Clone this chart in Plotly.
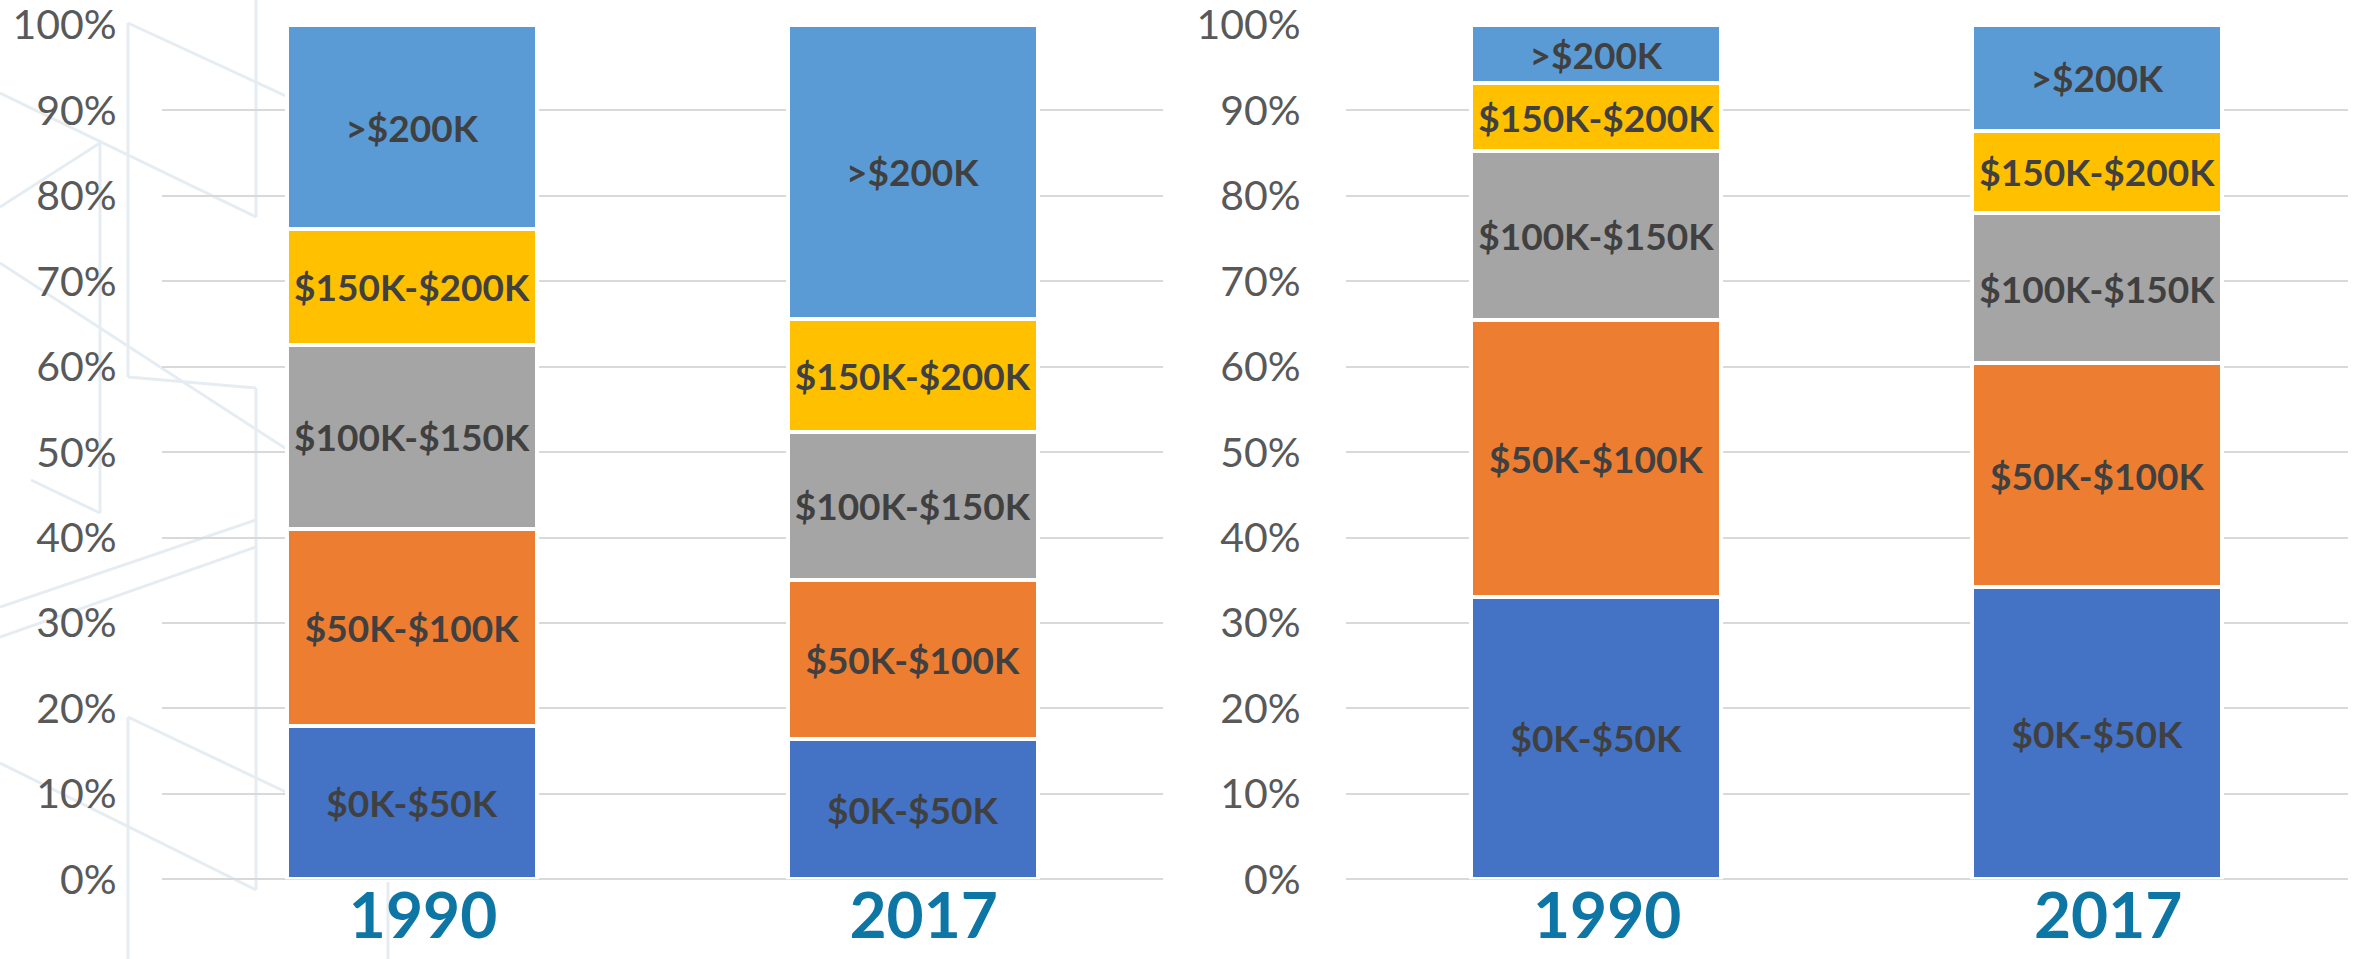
import plotly.graph_objects as go

# ---------------- data ----------------
years = ["1990", "2017"]
brackets = ["$0K-$50K", "$50K-$100K", "$100K-$150K", "$150K-$200K", ">$200K"]

# left chart (share, %)
left_values = {
    "$0K-$50K":    [17.9, 16.4],
    "$50K-$100K":  [23.1, 18.6],
    "$100K-$150K": [21.6, 17.4],
    "$150K-$200K": [13.5, 13.2],
    ">$200K":      [23.9, 34.4],
}
# right chart (share, %)
right_values = {
    "$0K-$50K":    [33.1, 34.2],
    "$50K-$100K":  [32.4, 26.2],
    "$100K-$150K": [19.7, 17.6],
    "$150K-$200K": [8.0, 9.65],
    ">$200K":      [6.8, 12.35],
}
tick_vals = [0, 10, 20, 30, 40, 50, 60, 70, 80, 90, 100]
tick_text = [f"{v}%" for v in tick_vals]

colors = {
    "$0K-$50K": "#4472C4",
    "$50K-$100K": "#ED7D31",
    "$100K-$150K": "#A5A5A5",
    "$150K-$200K": "#FFC000",
    ">$200K": "#5B9BD5",
}

W, H = 2356, 959

fig = go.Figure()
for name in brackets:
    for vals, xa, ya in ((left_values, "x", "y"), (right_values, "x2", "y2")):
        fig.add_trace(go.Bar(
            x=years, y=vals[name], name=name, xaxis=xa, yaxis=ya,
            width=0.5,
            marker=dict(color=colors[name], line=dict(color="white", width=4)),
            text=[name] * len(years),
            textposition="inside", insidetextanchor="middle",
            textangle=0, constraintext="none",
            textfont=dict(family="Lato", size=37, color="#404040", weight="bold"),
            showlegend=False, hoverinfo="skip",
        ))

ydom = [(H - 879.3) / H, (H - 25) / H]
yaxis_common = dict(
    range=[0, 100], tickvals=tick_vals, ticktext=tick_text,
    showgrid=True, gridcolor="#D9D9D9", gridwidth=2,
    zeroline=True, zerolinecolor="#D9D9D9", zerolinewidth=2,
    showline=False, ticks="",
    tickfont=dict(family="Lato", size=41, color="#595959"),
    ticklabelstandoff=44, ticklabeloverflow="allow",
    domain=ydom, fixedrange=True, automargin=False,
)
xaxis_common = dict(
    type="category", range=[-0.5, 1.5], showgrid=False, zeroline=False,
    showline=False, ticks="",
    tickfont=dict(family="Lato", size=64, color="#0E76A4", weight="bold"),
    ticklabelshift=11, ticklabelstandoff=-6, ticklabeloverflow="allow",
    fixedrange=True, automargin=False,
)

fig.update_layout(
    width=W, height=H, margin=dict(l=0, r=0, t=0, b=0, autoexpand=False),
    paper_bgcolor="white", plot_bgcolor="rgba(0,0,0,0)",
    barmode="stack", bargap=0.5,
    xaxis=dict(domain=[161.7 / W, 1163 / W], anchor="y", **xaxis_common),
    yaxis=dict(anchor="x", **yaxis_common),
    xaxis2=dict(domain=[1345.7 / W, 2347.7 / W], anchor="y2", **xaxis_common),
    yaxis2=dict(anchor="x2", **yaxis_common),
)

# faint decorative background lines (pixel coordinates of the page)
decor = [
    ((256, 0), (256, 217)),
    ((128, 23), (288, 97)),
    ((128, 23), (128, 377)),
    ((0, 93), (256, 217)),
    ((100, 140), (100, 513)),
    ((0, 207), (100, 143)),
    ((0, 263), (288, 450)),
    ((128, 377), (256, 388)),
    ((256, 388), (256, 890)),
    ((256, 520), (0, 607)),
    ((256, 547), (0, 637)),
    ((128, 717), (128, 959)),
    ((128, 717), (288, 793)),
    ((0, 763), (256, 890)),
    ((388, 882), (388, 959)),
    ((31, 480), (100, 513)),
]
for (x0, y0), (x1, y1) in decor:
    fig.add_shape(type="line", xref="paper", yref="paper",
                  x0=x0 / W, y0=1 - y0 / H, x1=x1 / W, y1=1 - y1 / H,
                  line=dict(color="#E6EDF2", width=3), layer="below")

fig.write_html(
    "out.html",
    config={"displayModeBar": False},
    post_script="document.body.style.margin='0';document.body.style.overflow='hidden';",
)
